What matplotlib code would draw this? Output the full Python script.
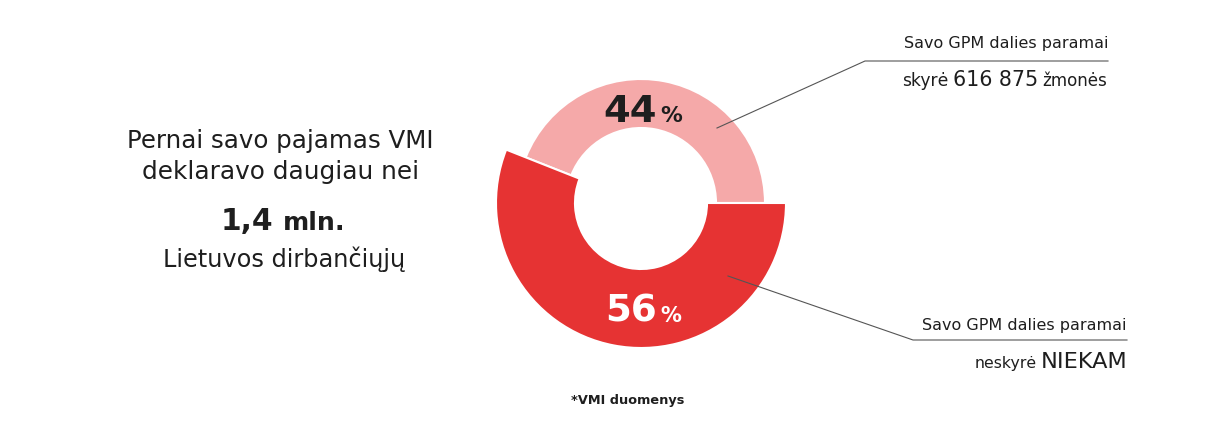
import matplotlib
matplotlib.use("Agg")
import matplotlib.pyplot as plt

# Share of residents who assigned part of their income tax (GPM) to support
categories = ["skyrė", "neskyrė"]
shares = [44, 56]
pct_labels = ["44", "56"]
donors_label = "616 875"
total_label = "1,4"

W, H = 1232, 441
PINK = "#F5A9A9"
RED = "#E63333"
DARK = "#1E1E1E"
FONT = "DejaVu Sans"

fig = plt.figure(figsize=(W / 100, H / 100), dpi=100)
ax = fig.add_axes([0, 0, 1, 1])
renderer = fig.canvas.get_renderer()


def Y(y):
    return H - y


def fitted(x, y, s, width, anchor="left", **kw):
    """Place text so that it spans `width` pixels starting/ending at x."""
    t = ax.text(x, Y(y), s, va="baseline", ha="left", fontsize=10,
                family=FONT, **kw)
    w = t.get_window_extent(renderer).width
    t.set_fontsize(10 * width / w)
    if anchor == "right":
        t.set_ha("right")
    elif anchor == "center":
        t.set_ha("center")
    return t


cx, cy = 641, Y(203)

# outer (red) segment is drawn bigger and thicker than the light one
pink_wedges, _ = ax.pie(shares, radius=124, center=(cx, cy), startangle=0,
                        counterclock=True, colors=[PINK, "none"],
                        wedgeprops=dict(width=49, edgecolor="white", linewidth=1.5))
pink_wedges[1].set_linewidth(0)
red_wedges, _ = ax.pie(shares, radius=145, center=(cx, cy), startangle=0,
                       counterclock=True, colors=["none", RED],
                       wedgeprops=dict(width=79, edgecolor="white", linewidth=1.5))
red_wedges[0].set_linewidth(0)

ax.set_xlim(0, W)
ax.set_ylim(0, H)
ax.set_aspect("equal")
ax.axis("off")

# percentage labels inside the ring
fitted(657, 122, pct_labels[0], 54, anchor="right", fontweight="bold", color=DARK)
fitted(660, 122, "%", 22, fontweight="bold", color=DARK)
fitted(657, 322, pct_labels[1], 52, anchor="right", fontweight="bold", color="white")
fitted(660, 322, "%", 21, fontweight="bold", color="white")

# left-hand headline
fitted(280, 148, "Pernai savo pajamas VMI", 306, anchor="center", color=DARK)
fitted(281, 179, "deklaravo daugiau nei", 277, anchor="center", color=DARK)
fitted(273, 230, total_label, 53, anchor="right", fontweight="bold", color=DARK)
fitted(283, 230, "mln.", 62, fontweight="bold", color=DARK)
fitted(284, 267, "Lietuvos dirbančiųjų", 242, anchor="center", color=DARK)

# annotation for the donors
ax.plot([717, 865, 1108], [Y(128), Y(61), Y(61)], color="#555555", lw=0.8)
fitted(1108, 48, "Savo GPM dalies paramai", 205, anchor="right", color=DARK)
fitted(902, 86, "skyrė", 46, color=DARK)
fitted(953, 86, donors_label, 85, color=DARK)
fitted(1042, 86, "žmonės", 65, color=DARK)

# annotation for the non-donors
ax.plot([728, 913, 1127], [Y(276), Y(340), Y(340)], color="#555555", lw=0.8)
fitted(1127, 330, "Savo GPM dalies paramai", 204, anchor="right", color=DARK)
fitted(975, 368, "neskyrė", 62, color=DARK)
fitted(1041, 368, "NIEKAM", 86, color=DARK)

# source note
fitted(628, 404, "*VMI duomenys", 113, anchor="center",
       fontweight="semibold", color=DARK)

fig.savefig("out.png", dpi=100, facecolor="white")
